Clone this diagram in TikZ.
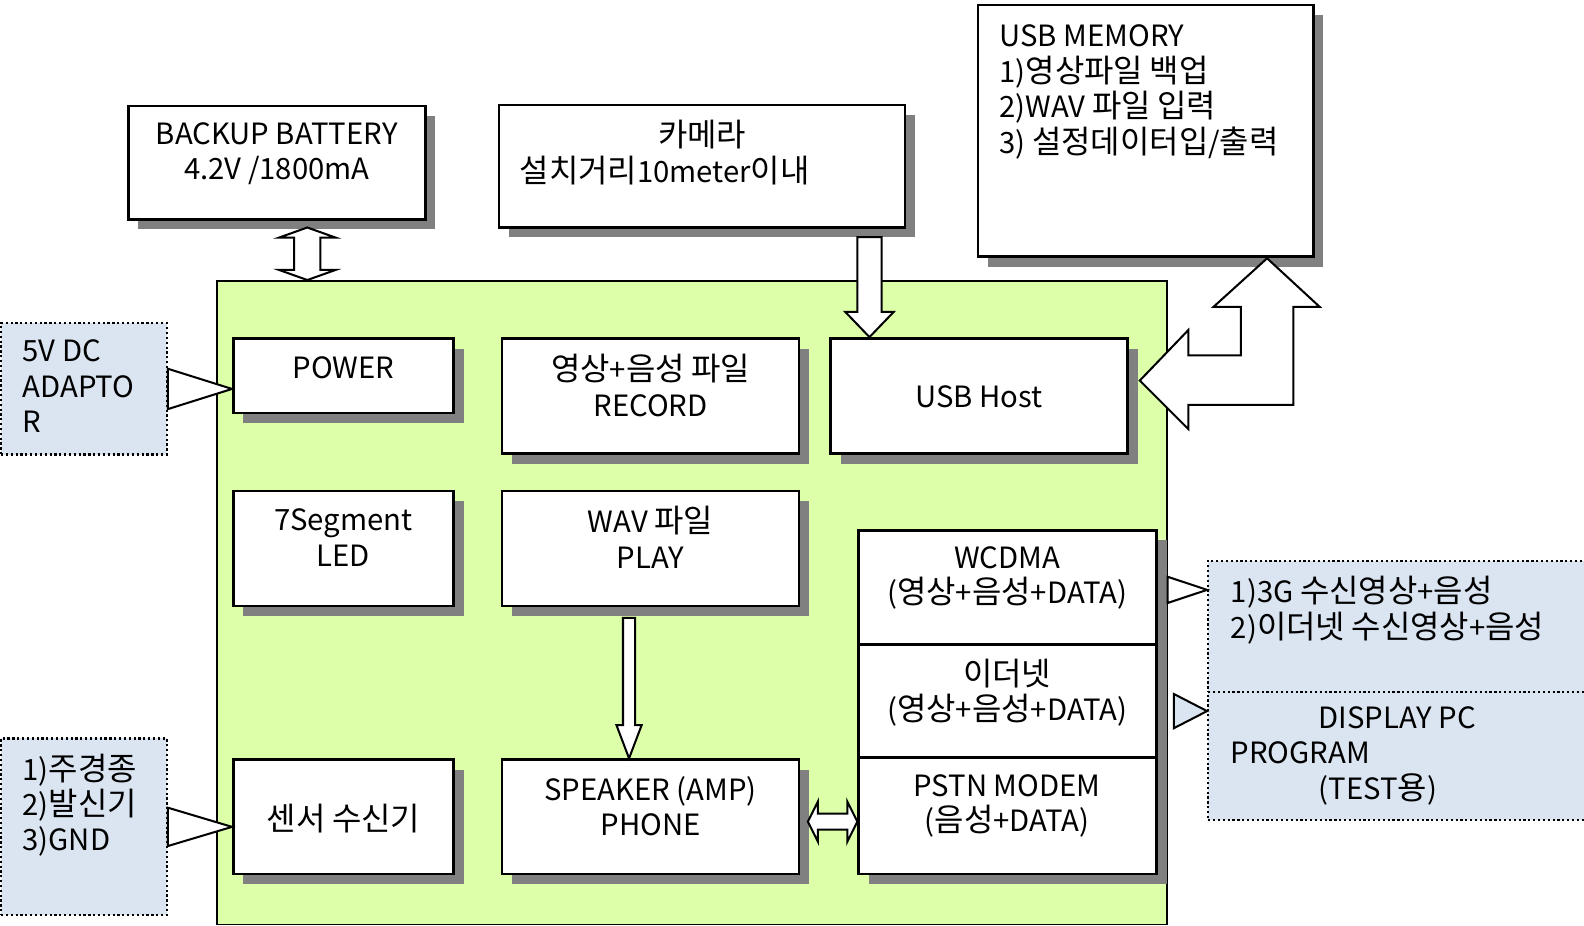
\documentclass[tikz,border=0pt]{standalone}
\usepackage{fontspec}
\setmainfont{Noto Sans CJK KR}
\newfontfamily\hangulfont{Noto Sans CJK KR}[Scale=1.09]
\usetikzlibrary{calc,fit,shadows}

\XeTeXinterchartokenstate=1
\newXeTeXintercharclass\hangulclass
\count255="AC00
\loop
	\XeTeXcharclass\count255=\hangulclass
	\ifnum\count255<"D7A3 \advance\count255 by 1
\repeat
\XeTeXinterchartoks 0 \hangulclass = {\hangulfont}
\XeTeXinterchartoks 4095 \hangulclass = {\hangulfont}
\XeTeXinterchartoks \hangulclass 0 = {\normalfont}
\XeTeXinterchartoks \hangulclass 4095 = {\normalfont}

\definecolor{boardgreen}{RGB}{221,255,170}
\definecolor{notefill}{RGB}{219,229,241}
\definecolor{shadowgray}{RGB}{128,128,128}

\tikzset{
	boardbox/.style = {draw, line width=0.8pt, fill=boardgreen, inner sep=0},
	unitbox/.style = {draw, line width=1.3pt, fill=white, inner sep=0,
		drop shadow={shadow xshift=5pt, shadow yshift=-5pt, fill=shadowgray, opacity=1}},
	notebox/.style = {draw, fill=notefill, inner sep=0, line width=1.1pt,
		dash pattern=on 1.1pt off 1.3pt},
	txt/.style = {inner sep=0, align=center, font=\fontsize{14.5}{17.5}\selectfont},
	ltxt/.style = {txt, align=left, anchor=west},
	hollow/.style = {draw, line width=1pt, fill=white, line join=miter}
}

\begin{document}
\begin{tikzpicture}[x=0.5pt, y=-0.5pt]
	\useasboundingbox (0,0) rectangle (1568,916);
	\clip (0,0) rectangle (1568,916);
	\node [boardbox, fit={(215,278) (1155,915)}] (board) {};
	\node [unitbox, fit={(127,105) (421,217)}] (battery) {};
	\node [txt] (battery-t) at (274,152) {BACKUP BATTERY\\4.2V /1800mA};
	\node [unitbox, fit={(494,104) (896,225)}] (camera) {};
	\node [txt] (camera-t1) at (695,133) {카메라};
	\node [txt] (camera-t2) at (658,169) {설치거리10meter이내};
	\node [unitbox, fit={(968,5) (1300,254)}] (usbmem) {};
	\node [ltxt] (usbmem-t) at (989,91) {USB MEMORY\\1)영상파일 백업\\2)WAV 파일 입력\\3) 설정데이터입/출력};

	\node [unitbox, fit={(231,335) (449,409)}] (power) {};
	\node [txt] (power-t) at (340,364) {POWER};
	\node [unitbox, fit={(497,335) (791,449)}] (record) {};
	\node [txt] (record-t) at (644,381.5) {영상+음성 파일\\RECORD};
	\node [unitbox, fit={(822,335) (1116,449)}] (usbhost) {};
	\node [txt] (usbhost-t) at (969,393) {USB Host};
	\node [unitbox, fit={(231,486) (449,600)}] (segment) {};
	\node [txt] (segment-t) at (340,532) {7Segment\\LED};
	\node [unitbox, fit={(497,486) (791,600)}] (wav) {};
	\node [txt] (wav-t) at (644,532) {WAV 파일\\PLAY};
	\node [unitbox, fit={(231,752) (449,865)}] (sensor) {};
	\node [txt] (sensor-t) at (340,810) {센서 수신기};
	\node [unitbox, fit={(497,752) (791,865)}] (speaker) {};
	\node [txt] (speaker-t) at (644,798) {SPEAKER (AMP)\\PHONE};
	\node [unitbox, fit={(850,525) (1145,638)}] (wcdma) {};
	\node [txt] (wcdma-t) at (997,572) {WCDMA\\(영상+음성+DATA)};
	\node [unitbox, fit={(850,638) (1145,750)}] (ether) {};
	\node [txt] (ether-t) at (997,685.5) {이더넷\\(영상+음성+DATA)};
	\node [unitbox, fit={(850,750) (1145,865)}] (pstn) {};
	\node [txt] (pstn-t) at (997,797.5) {PSTN MODEM\\(음성+DATA)};

	\node [notebox, fit={(1,320) (165,450)}] (adapter) {};
	\node [ltxt] (adapter-t) at (22,382.5) {5V DC\\ADAPTO\\R};
	\node [notebox, fit={(1,731) (165,906)}] (sensorsrc) {};
	\node [ltxt] (sensorsrc-t) at (22,797) {1)주경종\\2)발신기\\3)GND};
	\node [notebox, fit={(1196,555) (1580,685)}] (recv) {};
	\node [ltxt] (recv-t) at (1218,604) {1)3G 수신영상+음성\\2)이더넷 수신영상+음성};
	\node [notebox, fit={(1196,685) (1580,812)}] (display) {};
	\node [ltxt] (display-t) at (1218,748) {\hspace*{43.5pt}DISPLAY PC\\PROGRAM\\\hspace*{43.5pt}(TEST용)};

	\draw [hollow] ($(board.north west)+(90,0)$) -- ++(-28,-10) -- ++(15,0) -- ++(0,-32) -- ++(-15,0) -- ++(28,-10)
		-- ++(28,10) -- ++(-15,0) -- ++(0,32) -- ++(15,0) -- cycle;
	\draw [hollow] ($(usbhost.north west)+(40,0)$) -- ++(-24,-25) -- ++(12,0) -- ++(0,-74) -- ++(24,0) -- ++(0,74) -- ++(12,0) -- cycle;
	\draw [hollow] ($(speaker.north west)+(127,0)$) -- ++(-12.5,-33) -- ++(6.5,0) -- ++(0,-106) -- ++(12,0) -- ++(0,106) -- ++(6.5,0) -- cycle;
	\draw [hollow] ($(pstn.south west)+(0,-53)$) -- ++(-10,-20) -- ++(0,12) -- ++(-29,0) -- ++(0,-12) -- ++(-10,20)
		-- ++(10,20) -- ++(0,-12) -- ++(29,0) -- ++(0,12) -- cycle;
	\draw [hollow] ($(usbhost.north east)+(11,43)$) -- ++(48,-50) -- ++(0,25) -- ++(52,0) -- ++(0,-48) -- ++(-27,0)
		-- ++(53,-48) -- ++(52,48) -- ++(-26,0) -- ++(0,97) -- ++(-104,0) -- ++(0,24) -- cycle;
	\draw [hollow] ($(adapter.east)+(0,-20)$) -- (power.west |- adapter.east) -- ($(adapter.east)+(0,20)$) -- cycle;
	\draw [hollow] ($(sensorsrc.east)+(0,-19)$) -- (sensor.west |- sensorsrc.east) -- ($(sensorsrc.east)+(0,19)$) -- cycle;
	\draw [hollow] ($(recv.north west)+(0,30)$) coordinate (gtip) -- ($(gtip -| board.east)+(0,-13)$) -- ++(0,26) -- cycle;
	\draw [hollow, fill=notefill] ($(display.north west)+(0,20)$) -- ++(-33,-17) -- ++(0,34) -- cycle;
\end{tikzpicture}
\end{document}
